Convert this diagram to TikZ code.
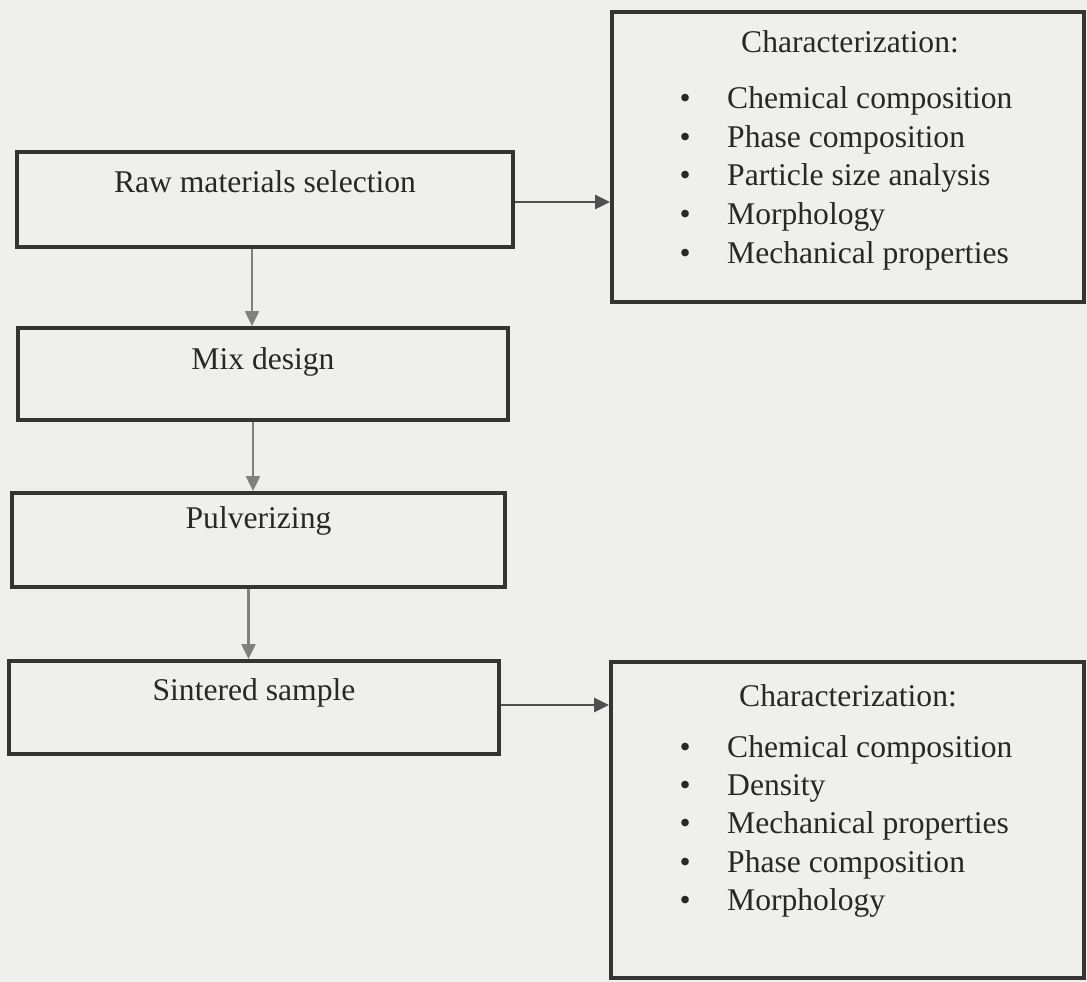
\documentclass[tikz,border=0pt]{standalone}
\usepackage{fontspec}
\setmainfont{Liberation Serif}
\usepackage{tikz}
\usetikzlibrary{arrows.meta}
\definecolor{paper}{RGB}{239,239,237}
\definecolor{ink}{RGB}{40,40,40}
\definecolor{frame}{RGB}{52,52,52}
\definecolor{downarrow}{RGB}{128,128,128}
\definecolor{sidearrow}{RGB}{80,80,80}
\tikzstyle{stage}=[draw=frame,line width=4pt,rectangle,inner sep=0pt]
\tikzstyle{stagetext}=[text=ink,anchor=base,inner sep=0pt,font=\fontsize{31.6pt}{38.6pt}\selectfont]
\tikzstyle{listtext}=[text=ink,anchor=base west,inner sep=0pt,font=\fontsize{31.6pt}{38.6pt}\selectfont]
\tikzstyle{flowdown}=[draw=downarrow,line width=2.5pt,-{Triangle[length=15pt,width=14pt]}]
\tikzstyle{flowside}=[draw=sidearrow,line width=2.8pt,-{Triangle[length=15pt,width=14pt]}]
\newcommand{\blt}{\makebox[47.5pt][l]{•}}

\begin{document}
\begin{tikzpicture}[x=1pt,y=1pt]
\fill[paper] (0,0) rectangle (1087,-982);
\useasboundingbox (0,0) rectangle (1087,-982);

% process steps
\node [stage,minimum width=496pt,minimum height=95pt] (raw) at (265,-199.5) {};
\node [stage,minimum width=490pt,minimum height=92pt] (mix) at (263,-374) {};
\node [stage,minimum width=493pt,minimum height=94pt] (pulv) at (258.5,-540) {};
\node [stage,minimum width=490pt,minimum height=93pt] (sint) at (254,-707.5) {};

\node [stagetext] (rawtext) at (265,-192) {Raw materials selection};
\node [stagetext] (mixtext) at (263,-369) {Mix design};
\node [stagetext] (pulvtext) at (258.5,-528) {Pulverizing};
\node [stagetext] (sinttext) at (254,-700) {Sintered sample};

% characterization boxes
\node [stage,minimum width=472pt,minimum height=290pt] (chartop) at (848,-157) {};
\node [stage,minimum width=473pt,minimum height=316pt] (charbot) at (847.5,-820) {};

\node [listtext] (charhead1) at (741,-53) {Characterization:};
\node [listtext] (ct1) at (679.5,-108) {\blt Chemical composition};
\node [listtext] (ct2) at (679.5,-147) {\blt Phase composition};
\node [listtext] (ct3) at (679.5,-185.5) {\blt Particle size analysis};
\node [listtext] (ct4) at (679.5,-224) {\blt Morphology};
\node [listtext] (ct5) at (679.5,-263) {\blt Mechanical properties};

\node [listtext] (charhead2) at (739,-706) {Characterization:};
\node [listtext] (cb1) at (679.5,-757) {\blt Chemical composition};
\node [listtext] (cb2) at (679.5,-795) {\blt Density};
\node [listtext] (cb3) at (679.5,-833.5) {\blt Mechanical properties};
\node [listtext] (cb4) at (679.5,-872) {\blt Phase composition};
\node [listtext] (cb5) at (679.5,-910) {\blt Morphology};

% connectors
\draw [flowdown] ([xshift=-13pt]raw.south) -- ([xshift=-13pt]raw.south |- mix.north);
\draw [flowdown] ([xshift=-10pt]mix.south) -- ([xshift=-10pt]mix.south |- pulv.north);
\draw [flowdown] ([xshift=-10pt]pulv.south) -- ([xshift=-10pt]pulv.south |- sint.north);
\draw [flowside] ([yshift=-2.5pt]raw.east) -- ([yshift=-2.5pt]raw.east -| chartop.west);
\draw [flowside] ([yshift=2.5pt]sint.east) -- ([yshift=2.5pt]sint.east -| charbot.west);
\end{tikzpicture}
\end{document}
